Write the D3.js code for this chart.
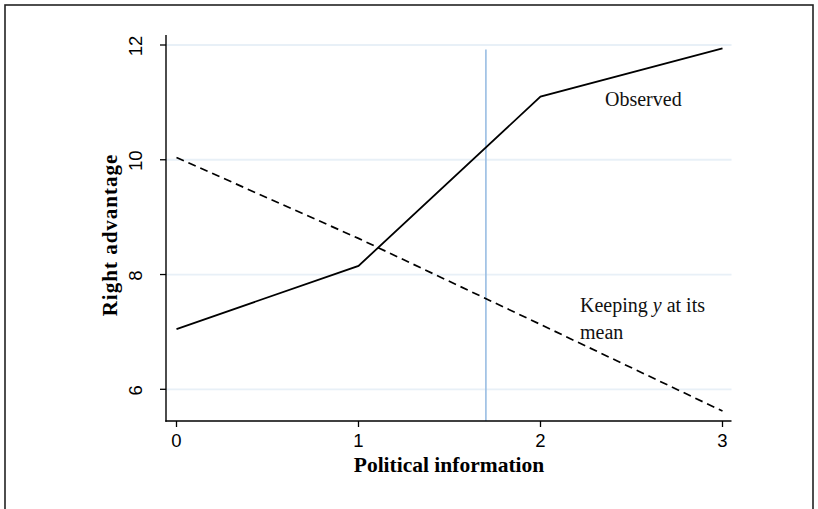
<!DOCTYPE html>
<html>
<head>
<meta charset="utf-8">
<script src="https://cdn.jsdelivr.net/npm/d3@7"></script>
<style>
  html, body { margin: 0; padding: 0; background: #fff; }
  svg { display: block; }
</style>
</head>
<body>
<svg id="chart" width="818" height="509"></svg>
<script>
// ---- data ----
const xValues = [0, 1, 2, 3];
const observed = [7.05, 8.15, 11.10, 11.94];
const keepingMean = [10.04, 8.63, 7.13, 5.62];
const xTicks = [0, 1, 2, 3];
const yTicks = [6, 8, 10, 12];
const meanInfo = 1.7;
const xLabel = "Political information";
const yLabel = "Right advantage";

const svg = d3.select("#chart");

// frame
svg.append("rect")
  .attr("x", 5).attr("y", 5).attr("width", 808).attr("height", 520)
  .attr("fill", "none").attr("stroke", "#222").attr("stroke-width", 1.6);

const x = d3.scaleLinear().domain([0, 3]).range([176.5, 722.5]);
const y = d3.scaleLinear().domain([6, 12]).range([389.3, 45]);

const plotLeft = 166, plotRight = 731.5, plotTop = 35, plotBottom = 421;

// gridlines
svg.append("g").selectAll("line").data(yTicks).join("line")
  .attr("x1", plotLeft).attr("x2", plotRight)
  .attr("y1", d => y(d)).attr("y2", d => y(d))
  .attr("stroke", "#e8f0f7").attr("stroke-width", 1.8);

// vertical mean line
svg.append("line")
  .attr("x1", x(meanInfo)).attr("x2", x(meanInfo))
  .attr("y1", y(11.92)).attr("y2", plotBottom)
  .attr("stroke", "#99bde3").attr("stroke-width", 1.6);

// axes lines
svg.append("line").attr("x1", plotLeft).attr("x2", plotLeft)
  .attr("y1", plotTop).attr("y2", plotBottom + 0.7)
  .attr("stroke", "#000").attr("stroke-width", 1.4);
svg.append("line").attr("x1", plotLeft - 0.7).attr("x2", plotRight)
  .attr("y1", plotBottom).attr("y2", plotBottom)
  .attr("stroke", "#000").attr("stroke-width", 1.4);

// y ticks
const yt = svg.append("g");
yt.selectAll("line").data(yTicks).join("line")
  .attr("x1", plotLeft - 6).attr("x2", plotLeft)
  .attr("y1", d => y(d)).attr("y2", d => y(d))
  .attr("stroke", "#000").attr("stroke-width", 1.3);
yt.selectAll("text").data(yTicks).join("text")
  .attr("transform", d => `translate(142,${y(d) + 1}) rotate(-90)`)
  .attr("text-anchor", "middle")
  .attr("font-family", "'Liberation Sans', Arial, sans-serif")
  .attr("font-size", 18.5)
  .attr("fill", "#000")
  .text(d => d);

// x ticks
const xt = svg.append("g");
xt.selectAll("line").data(xTicks).join("line")
  .attr("x1", d => x(d)).attr("x2", d => x(d))
  .attr("y1", plotBottom).attr("y2", plotBottom + 6)
  .attr("stroke", "#000").attr("stroke-width", 1.3);
xt.selectAll("text").data(xTicks).join("text")
  .attr("x", d => x(d)).attr("y", 446.8)
  .attr("text-anchor", "middle")
  .attr("font-family", "'Liberation Sans', Arial, sans-serif")
  .attr("font-size", 18.5)
  .attr("fill", "#000")
  .text(d => d);

// lines
const line = d3.line().x(d => x(d[0])).y(d => y(d[1]));
svg.append("path")
  .datum(xValues.map((v, i) => [v, observed[i]]))
  .attr("d", line).attr("fill", "none")
  .attr("stroke", "#000").attr("stroke-width", 1.8);
svg.append("path")
  .datum(xValues.map((v, i) => [v, keepingMean[i]]))
  .attr("d", line).attr("fill", "none")
  .attr("stroke", "#000").attr("stroke-width", 1.7)
  .attr("stroke-dasharray", "8,5");

// annotations
const serif = "'Liberation Serif', 'Times New Roman', serif";
svg.append("text").attr("x", 605).attr("y", 105.7)
  .attr("font-family", serif).attr("font-size", 20).attr("fill", "#111")
  .text("Observed");
const k = svg.append("text").attr("x", 580).attr("y", 311.7)
  .attr("font-family", serif).attr("font-size", 20).attr("fill", "#111");
k.append("tspan").text("Keeping ");
k.append("tspan").attr("font-style", "italic").text("y");
k.append("tspan").text(" at its");
svg.append("text").attr("x", 580).attr("y", 339)
  .attr("font-family", serif).attr("font-size", 20).attr("fill", "#111")
  .text("mean");

// axis titles
svg.append("text").attr("x", 449).attr("y", 471.7)
  .attr("text-anchor", "middle")
  .attr("font-family", serif).attr("font-weight", "bold").attr("font-size", 21.5)
  .attr("fill", "#000")
  .text(xLabel);
svg.append("text")
  .attr("transform", "translate(116.5,235) rotate(-90)")
  .attr("text-anchor", "middle")
  .attr("font-family", serif).attr("font-weight", "bold").attr("font-size", 21)
  .attr("letter-spacing", 1)
  .attr("fill", "#000")
  .text(yLabel);
</script>
</body>
</html>
